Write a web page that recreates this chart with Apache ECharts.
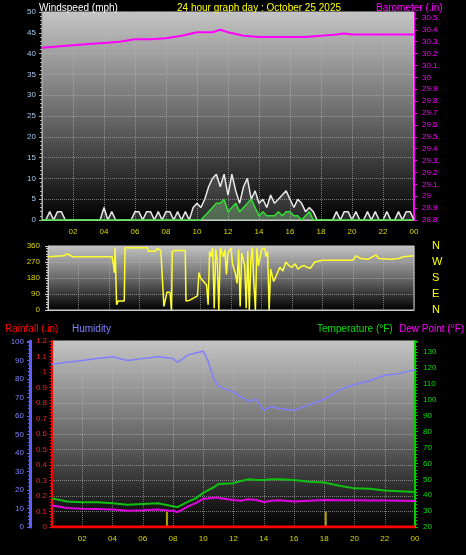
<!DOCTYPE html>
<html><head><meta charset="utf-8">
<script src="https://cdn.jsdelivr.net/npm/echarts@6/dist/echarts.min.js"></script>
<style>html,body{margin:0;background:#000}#c{width:466px;height:555px}</style>
</head><body><div id="c"></div>
<script>
const hourLabels = ['02','04','06','08','10','12','14','16','18','20','22','00'];
// barometer (.in) [hour, value]
const baroT = [0,1,2,3,4,5,6,7,8,9,10,11,11.5,12,13,14,15,16,17,18,19,19.5,20,21,22,23,24];
const baroV = [30.25,30.26,30.27,30.28,30.29,30.30,30.32,30.32,30.33,30.35,30.38,30.38,30.40,30.38,30.35,30.34,30.34,30.34,30.34,30.35,30.36,30.37,30.36,30.36,30.36,30.36,30.36];
// wind gust / average (mph), every 15 minutes
const gust = [0,0,2,0, 2,2,0,0, 0,0,0,0, 0,0,0,0, 3,0,2,0, 0,0,0,0, 2,2,0,2, 2,0,2,0, 2,2,0,2, 0,2,0,3,
  4,3,5,8, 10,11,8,11, 6,11,7,4, 8,10,5,7, 4,5,3,6, 4,5,6,7, 5,3,5,4, 2,3,2,0, 0,0,0,0, 2,0,2,2, 0,2,0,0, 2,0,2,0, 0,2,0,0, 2,0,2,2, 0];
const avg = [0,0,0,0, 0,0,0,0, 0,0,0,0, 0,0,0,0, 0,0,0,0, 0,0,0,0, 0,0,0,0, 0,0,0,0, 0,0,0,0, 0,0,0,0,
  0,0,1,2, 3,4,4,5, 2,3,4,2, 3,4,5,3, 1,2,1,1, 1,2,1,2, 2,1,1,0, 1,2,0,0, 0,0,0,0, 0,0,0,0, 0,0,0,0, 0,0,0,0, 0,0,0,0, 0,0,0,0, 0];
// wind direction (deg)
const dirT = [0,1,1.3,1.6,4.2,4.3,4.35,4.4,4.5,4.6,5.0,5.05,6.5,6.6,7.0,7.2,7.4,7.5,7.6,7.8,8.0,8.1,8.15,8.2,8.3,9.0,9.05,9.3,9.6,9.8,9.9,10.0,10.2,10.4,10.5,10.6,10.7,10.8,10.9,11.0,11.1,11.2,11.3,11.5,11.6,11.7,11.8,12.0,12.1,12.3,12.4,12.5,12.6,12.7,12.9,13.0,13.1,13.2,13.3,13.4,13.5,13.6,13.7,13.8,14.0,14.2,14.3,14.4,14.5,14.6,14.8,15.0,15.2,15.4,15.6,15.8,16.0,16.2,16.4,16.6,16.8,17.0,17.2,17.5,18.0,20.0,20.2,20.5,21.0,21.5,21.7,22.5,23.0,23.3,24];
const dirV = [300,305,315,300,300,250,210,350,30,50,50,350,350,330,330,345,335,340,20,100,100,0,330,340,335,335,50,55,70,80,210,180,160,140,30,330,300,350,10,340,280,0,350,300,340,200,320,350,260,200,150,340,20,320,250,10,330,0,280,350,150,0,350,250,340,350,300,330,0,230,160,200,240,220,270,250,240,260,230,245,250,240,235,270,280,280,305,290,285,310,290,285,290,300,305];
const dirLabels = ['N','W','S','E','N'];
// humidity (%), temperature (°F), dew point (°F)
const thT = [0,1,2,3,4,5,6,7,8,8.3,9,9.5,10,10.3,10.7,11,12,12.5,13,13.5,14,14.5,15,16,17,18,19,20,21,22,23,24];
const hum = [88,89,90,91,92,90,91,92,91,89,93,94,95,90,80,76,73,70,68,69,63,65,64,63,66,69,74,77,79,82,83,85];
const temp = [38,36,35.5,35.5,35,34,34.5,35,33,32.5,36,38,41.5,43,45,47,47.5,49,50,49.5,49.5,50,50,49.5,48.5,48,46,44.3,44,43,42.5,42];
const dew = [33.5,32,31.5,31.3,31,30.2,30.5,31,30,29.4,33,35,37.7,38,38.5,38.3,37,36.5,37.5,37,35.7,36.5,36.8,36,36.5,37,36.8,36.8,36.7,36.6,36.5,36.4];
const rainT = [0,24];
const rainV = [0,0];
const markT = [7.6,18.1];
const markV = [0.1,0.1];

const pair = (t,v)=>t.map((x,i)=>[x,v[i]]);
const q = v=>v.map((y,i)=>[i*0.25,y]);
const bg = {type:'linear',x:0,y:0,x2:0,y2:1,colorStops:[{offset:0,color:'#c4c4c4'},{offset:0.5,color:'#6a6a6a'},{offset:1,color:'#000'}]};
const f = 'Liberation Sans';
const xa = (gi,show)=>({type:'value',gridIndex:gi,min:0,max:24,interval:2,
  axisLabel:{show:show,color:'#d8d800',fontSize:8,fontFamily:f,formatter:v=>v==0?'':String(v%24).padStart(2,'0')},
  axisLine:{show:true,lineStyle:{color:'#ccc'}},axisTick:{show:false},
  splitLine:{show:true,lineStyle:{color:'#bbb',type:'dotted',opacity:0.6}}});
const ya = (gi,o)=>Object.assign({type:'value',gridIndex:gi,axisTick:{show:true,length:3},
  minorTick:{show:true,splitNumber:5,length:2},
  splitLine:{show:true,lineStyle:{color:'#bbb',type:'dotted',opacity:0.6}}},o);
const ts = c=>({color:c,fontSize:10,fontWeight:'normal',fontFamily:f});

const chart = echarts.init(document.getElementById('c'));
chart.setOption({
  backgroundColor:'#000',animation:false,
  textStyle:{fontFamily:f},
  title:[
    {text:'Windspeed (mph)',left:34,top:-2,textStyle:ts('#fff')},
    {text:'24 hour graph day : October 25 2025',left:172,top:-2,textStyle:ts('#ffff00')},
    {text:'Barometer (.in)',left:371,top:-2,textStyle:ts('#ff00ff')},
    {text:'Rainfall (.in)',left:0,top:319,textStyle:ts('#ff0000')},
    {text:'Humidity',left:67,top:319,textStyle:ts('#8080ff')},
    {text:'Temperature (°F)',left:312,top:319,textStyle:ts('#00dd00')},
    {text:'Dew Point (°F)',left:394,top:319,textStyle:ts('#ff00ff')}
  ],
  grid:[
    {left:42,right:52,top:12,bottom:335,show:true,backgroundColor:bg,borderColor:'#ccc'},
    {left:48,right:52,top:246,bottom:245,show:true,backgroundColor:bg,borderColor:'#ccc'},
    {left:52,right:51,top:341,bottom:28,show:true,backgroundColor:bg,borderColor:'#ccc'}
  ],
  xAxis:[xa(0,true),xa(1,false),xa(2,true)],
  yAxis:[
    ya(0,{min:0,max:50,interval:5,axisLabel:{color:'#a8c8e8',fontSize:8,margin:6},axisLine:{show:true,lineStyle:{color:'#aaa'}}}),
    ya(0,{position:'right',min:28.8,max:30.55,interval:0.1,splitLine:{show:false},minorTick:{show:false},
      axisLabel:{color:'#ff00ff',fontSize:8,showMaxLabel:false,formatter:v=>String(+v.toFixed(1))},axisLine:{show:true,lineStyle:{color:'#ff00ff'}}}),
    ya(1,{min:0,max:360,interval:90,axisLabel:{color:'#d8d800',fontSize:8,margin:8},axisLine:{show:true,lineStyle:{color:'#ccc'}},minorTick:{show:true,splitNumber:6,length:2}}),
    ya(1,{position:'right',min:0,max:360,interval:90,splitLine:{show:false},minorTick:{show:false},axisTick:{show:false},axisLine:{show:false},
      axisLabel:{color:'#ffff00',fontSize:11,margin:18,formatter:v=>dirLabels[4-v/90]}}),
    ya(2,{min:0,max:1.2,interval:0.1,axisLabel:{color:'#ff2020',fontSize:8,margin:5,formatter:v=>String(+v.toFixed(1))},axisLine:{show:true,lineStyle:{color:'#ff0000',width:2}}}),
    ya(2,{position:'left',min:0,max:100.5,interval:10,offset:22,splitLine:{show:false},axisLabel:{color:'#8080ff',fontSize:8,margin:6},axisLine:{show:true,lineStyle:{color:'#6060ff',width:3}}}),
    ya(2,{position:'right',min:20,max:137,interval:10,splitLine:{show:false},axisLabel:{color:'#00dd00',fontSize:8,showMaxLabel:false},axisLine:{show:true,lineStyle:{color:'#00cc00',width:2}}})
  ],
  series:[
    {type:'line',xAxisIndex:0,yAxisIndex:1,data:pair(baroT,baroV),showSymbol:false,lineStyle:{color:'#ff00ff',width:2}},
    {type:'line',xAxisIndex:0,yAxisIndex:0,data:q(gust),showSymbol:false,lineStyle:{color:'#e8e8e8',width:1.5},areaStyle:{color:'rgba(230,230,230,0.25)'}},
    {type:'line',xAxisIndex:0,yAxisIndex:0,data:q(avg),showSymbol:false,lineStyle:{color:'#30e030',width:1.5},areaStyle:{color:'rgba(160,240,160,0.45)'}},
    {type:'line',xAxisIndex:1,yAxisIndex:2,data:pair(dirT,dirV),showSymbol:false,lineStyle:{color:'#ffff30',width:1.5}},
    {type:'line',xAxisIndex:2,yAxisIndex:5,data:pair(thT,hum),showSymbol:false,lineStyle:{color:'#8080ff',width:1.5}},
    {type:'line',xAxisIndex:2,yAxisIndex:6,data:pair(thT,temp),showSymbol:false,lineStyle:{color:'#10c010',width:2}},
    {type:'line',xAxisIndex:2,yAxisIndex:6,data:pair(thT,dew),showSymbol:false,lineStyle:{color:'#e000e0',width:2}},
    {type:'line',xAxisIndex:2,yAxisIndex:4,data:pair(rainT,rainV),showSymbol:false,lineStyle:{color:'#ff0000',width:3}},
    {type:'bar',xAxisIndex:2,yAxisIndex:4,data:pair(markT,markV),barWidth:2,itemStyle:{color:'#b0a000'}}
  ]
});
</script></body></html>
